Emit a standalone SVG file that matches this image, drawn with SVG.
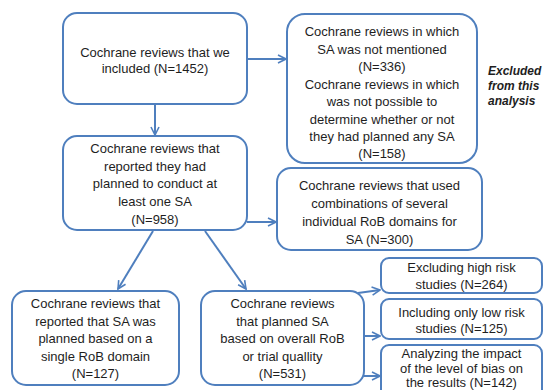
<svg xmlns="http://www.w3.org/2000/svg" width="545" height="390" viewBox="0 0 545 390">
<style>
.box{fill:#fff;stroke:#4f7fbe;stroke-width:2}
.t{font-family:"Liberation Sans",Arial,sans-serif;font-size:13px;fill:#1e1e1e;text-anchor:middle}
.ex{font-family:"Liberation Sans",Arial,sans-serif;font-size:12px;font-weight:bold;font-style:italic;fill:#1e1e1e}
.c{fill:none;stroke:#4f7fbe;stroke-width:2;marker-end:url(#ah)}
</style>
<defs>
<marker id="ah" viewBox="0 0 10 10" refX="9" refY="5" markerWidth="5" markerHeight="5" orient="auto" markerUnits="strokeWidth">
<path d="M1,1 L9,5 L1,9" fill="none" stroke="#4f7fbe" stroke-width="1.6"/>
</marker>
</defs>
<rect width="545" height="390" fill="#fff"/>
<g id="connectors">
<line class="c" x1="247" y1="59" x2="286" y2="59"/>
<line class="c" x1="155" y1="104" x2="155" y2="135"/>
<line class="c" x1="247" y1="222" x2="276" y2="222"/>
<line class="c" x1="153" y1="231" x2="118" y2="289"/>
<line class="c" x1="205" y1="231" x2="246" y2="289"/>
<line class="c" x1="358" y1="293" x2="380" y2="290"/>
<line class="c" x1="364" y1="336" x2="380" y2="336"/>
<line class="c" x1="364" y1="376" x2="380" y2="376"/>
</g>
<g id="n1">
<rect class="box" x="63" y="13" width="184" height="91" rx="14"/>
<text class="t" x="155" y="56.5">Cochrane reviews that we</text>
<text class="t" x="155" y="72.5">included (N=1452)</text>
</g>
<g id="n2">
<rect class="box" x="63" y="136" width="184" height="94" rx="14"/>
<text class="t" x="155" y="153">Cochrane reviews that</text>
<text class="t" x="155" y="170.5">reported they had</text>
<text class="t" x="155" y="188">planned to conduct at</text>
<text class="t" x="155" y="206">least one SA</text>
<text class="t" x="155" y="224">(N=958)</text>
</g>
<g id="n3">
<rect class="box" x="287" y="14" width="190" height="149" rx="18"/>
<text class="t" x="382" y="36.2">Cochrane reviews in which</text>
<text class="t" x="382" y="53.6">SA was not mentioned</text>
<text class="t" x="382" y="71.1">(N=336)</text>
<text class="t" x="382" y="88.5">Cochrane reviews in which</text>
<text class="t" x="382" y="106">was not possible to</text>
<text class="t" x="382" y="123.5">determine whether or not</text>
<text class="t" x="382" y="140.9">they had planned any SA</text>
<text class="t" x="382" y="158.4">(N=158)</text>
</g>
<g id="excluded">
<text class="ex" x="488" y="75">Excluded</text>
<text class="ex" x="488" y="90">from this</text>
<text class="ex" x="488" y="105">analysis</text>
</g>
<g id="n4">
<rect class="box" x="277" y="168" width="205" height="82" rx="14"/>
<text class="t" x="379.5" y="189.5">Cochrane reviews that used</text>
<text class="t" x="379.5" y="207.5">combinations of several</text>
<text class="t" x="379.5" y="225.5">individual RoB domains for</text>
<text class="t" x="379.5" y="243.5">SA (N=300)</text>
</g>
<g id="n5">
<rect class="box" x="12" y="291" width="167" height="94" rx="14"/>
<text class="t" x="95.5" y="307.5">Cochrane reviews that</text>
<text class="t" x="95.5" y="325.5">reported that SA was</text>
<text class="t" x="95.5" y="342.5">planned based on a</text>
<text class="t" x="95.5" y="360.5">single RoB domain</text>
<text class="t" x="95.5" y="377.5">(N=127)</text>
</g>
<g id="n6">
<rect class="box" x="201" y="291" width="163" height="94" rx="14"/>
<text class="t" x="282.5" y="307.5">Cochrane reviews</text>
<text class="t" x="282.5" y="325.5">that planned SA</text>
<text class="t" x="282.5" y="342.5">based on overall RoB</text>
<text class="t" x="282.5" y="360.5">or trial quallity</text>
<text class="t" x="282.5" y="377.5">(N=531)</text>
</g>
<g id="n7">
<rect class="box" x="381" y="258" width="161" height="35" rx="8"/>
<text class="t" x="461.5" y="271.5">Excluding high risk</text>
<text class="t" x="461.5" y="288.5">studies (N=264)</text>
</g>
<g id="n8">
<rect class="box" x="381" y="299" width="161" height="40" rx="8"/>
<text class="t" x="461.5" y="316.5">Including only low risk</text>
<text class="t" x="461.5" y="332.5">studies (N=125)</text>
</g>
<g id="n9">
<rect class="box" x="381" y="345" width="161" height="55" rx="8"/>
<text class="t" x="461.5" y="357.5">Analyzing the impact</text>
<text class="t" x="461.5" y="372.5">of the level of bias on</text>
<text class="t" x="461.5" y="387">the results (N=142)</text>
</g>
</svg>
